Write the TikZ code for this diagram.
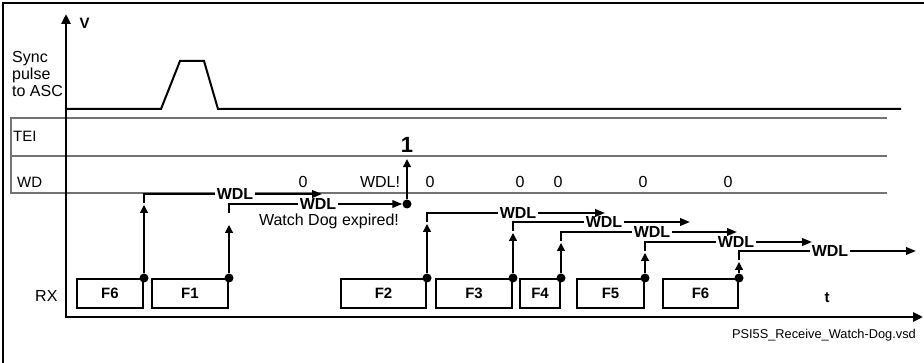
\documentclass[tikz,border=0pt]{standalone}
\usepackage{fontspec}
\setmainfont{Liberation Sans}
\usetikzlibrary{arrows.meta,positioning}
\newcommand{\pxfont}[1]{\fontsize{#1}{#1}\selectfont}

\begin{document}
\begin{tikzpicture}[x=1pt,y=-1pt,
  grid/.style={draw=black!55,line width=1.5pt},
  frame/.style={draw,line width=2pt,minimum height=29pt,inner sep=0pt,font=\pxfont{15}\bfseries},
  lbl/.style={inner sep=0pt,font=\pxfont{16}},
  wdl/.style={fill=white,inner sep=1.5pt,font=\pxfont{16}\bfseries},
  dot/.style={circle,fill,inner sep=0pt,minimum size=9pt},
  timer/.style={line width=2pt},
  wdarrow/.style={line width=2pt,-{Triangle[length=10pt,width=7.5pt]}},
  trig/.style={line width=1.2pt,-{Triangle[length=8pt,width=8pt]}},
  axis/.style={line width=2.5pt,{Triangle[length=10pt,width=9pt]}-{Triangle[length=10pt,width=9pt]}}]
\useasboundingbox (0,0) rectangle (924,363);
\draw[line width=1.5pt] (3,363) -- (3,3) -- (924,3);
% signal rows
\draw[grid] (887,118) -- (11,118) -- (11,193) -- (887,193);
\draw[grid] (11,156) -- (887,156);
\draw[line width=2pt] (66,109) -- (161,109) -- (180,61) -- (204,61) -- (218,109) -- (901,109);
\node[lbl,align=left,anchor=base west,font=\fontsize{16}{17}\selectfont] (sync) at (12,97) {Sync\\pulse\\to ASC};
\node[lbl,anchor=base west,font=\pxfont{15}] (tei) at (13,142) {TEI};
\node[lbl,anchor=base west,font=\pxfont{15}] (wd) at (17,188) {WD};
\node[lbl,anchor=base west] (rx) at (35,302) {RX};
% axes
\coordinate (o) at (66,317);
\coordinate (vtip) at (66,14);
\coordinate (ttip) at (923,317);
\draw[axis] (vtip) -- (o) -- (ttip);
\node[font=\pxfont{15}\bfseries,anchor=west] (v) at (76,23) {V};
\node[font=\pxfont{15}\bfseries] (t) at (827,298) {t};
\node[lbl,anchor=base east,font=\pxfont{12.8}] (file) at (916,338) {PSI5S\_Receive\_Watch-Dog.vsd};
% received frames
\foreach \n/\x/\w/\lab in {fa/110/66/F6,fb/190/76/F1,fc/383.5/85/F2,fd/474/76/F3,fe/540/40/F4,ff/610.5/67/F5,fg/700.5/75/F6}{
  \node[frame,minimum width=\w pt] (\n) at (\x,293.5) {\lab};
  \node[dot] (\n d) at (\n.north east) {};
}
% watch dog values
\foreach \x [count=\i] in {303,430,520,558,643,728}
  \node[lbl,anchor=base] (zero\i) at (\x,188) {0};
\node[lbl,anchor=base] (wdlx) at (380,188) {WDL!};
\node[lbl,anchor=base] (expired) at (329,226) {Watch Dog expired!};
\node[font=\pxfont{22}\bfseries,inner sep=0pt,anchor=base] (one) at (407,153) {1};
% watch dog timers
\foreach \n/\y/\lx in {fa/194/235,fb/204/318,fc/213/518,fd/222/604,fe/232/652,ff/242/736,fg/251/830}
  \node[wdl] (\n w) at (\lx,\y) {WDL};
\foreach \n/\y/\s/\tip/\ex in {fa/194/203/205/322,fc/213/222/224/605,fd/222/231/233/690,fe/232/241/243/737,ff/242/251/253/812,fg/251/260/262/916}{
  \draw[trig] (\n d) -- (\n d |- 0,\tip);
  \draw[timer] (\n d |- 0,\s) -- (\n d |- 0,\y) -- (\n w.west);
  \coordinate (\n e) at (\ex,\y);
  \draw[wdarrow] (\n w.east) -- (\n e);
}
\node[dot] (exp) at (407,204) {};
\draw[trig] (fbd) -- (fbd |- 0,225);
\draw[timer] (fbd |- 0,213) -- (fbd |- 0,204) -- (fbw.west);
\draw[wdarrow] (fbw.east) -- (exp.west);
\draw[trig] (exp) -- ([yshift=-6pt]one.south);
\end{tikzpicture}
\end{document}
